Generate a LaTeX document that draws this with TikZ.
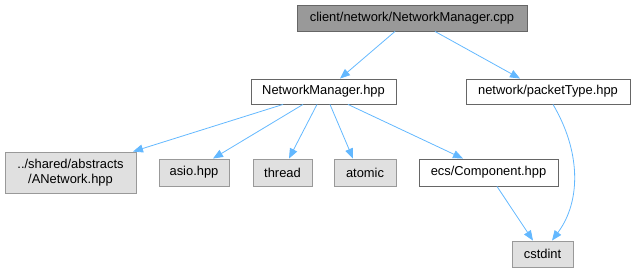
\documentclass[tikz,border=0pt]{standalone}
\usepackage{fontspec}
\setmainfont{Liberation Sans}
\usetikzlibrary{arrows.meta}
\definecolor{edgeblue}{HTML}{63B8FF}
\definecolor{rootfill}{HTML}{999999}
\definecolor{extfill}{HTML}{E0E0E0}
\definecolor{darkline}{HTML}{666666}
\definecolor{lightline}{HTML}{999999}
\begin{document}
\begin{tikzpicture}[x=1pt,y=-1pt,
  every node/.style={font=\fontsize{12.9}{14.5}\selectfont, inner sep=0pt, align=center, line width=0.9pt},
  rootbox/.style={draw=darkline, fill=rootfill},
  filebox/.style={draw=darkline, fill=white},
  extbox/.style={draw=lightline, fill=extfill},
  dep/.style={draw=edgeblue, line width=0.8pt, -{Triangle[length=10pt,width=8pt]}}]
\useasboundingbox (0,0) rectangle (635,272);

% files
\node[rootbox, minimum width=230pt, minimum height=26pt] (root) at (412,18) {client/network/NetworkManager.cpp};
\node[filebox, minimum width=145pt, minimum height=25pt] (nm) at (323.5,91.5) {NetworkManager.hpp};
\node[filebox, minimum width=164pt, minimum height=25pt] (pt) at (548,91.5) {network/packetType.hpp};
\node[extbox, minimum width=131pt, minimum height=41pt] (anet) at (70.5,172.5) {../shared/abstracts\\/ANetwork.hpp};
\node[extbox, minimum width=70pt, minimum height=27pt] (asio) at (194,172.5) {asio.hpp};
\node[extbox, minimum width=59pt, minimum height=27pt] (thread) at (282.5,172.5) {thread};
\node[extbox, minimum width=62pt, minimum height=27pt] (atomic) at (365,172.5) {atomic};
\node[filebox, minimum width=139pt, minimum height=27pt] (comp) at (488.5,172.5) {ecs/Component.hpp};
\node[extbox, minimum width=61pt, minimum height=26pt] (cstd) at (542.5,254) {cstdint};

% include edges
\draw[dep] ([xshift=-17pt]root.south) -- ([xshift=16.5pt]nm.north);
\draw[dep] ([xshift=23pt]root.south) -- ([xshift=-28pt]pt.north);
\draw[dep] ([xshift=-40.5pt]nm.south) -- ([xshift=62.5pt]anet.north);
\draw[dep] ([xshift=-20.5pt]nm.south) -- ([xshift=19pt]asio.north);
\draw[dep] ([xshift=-6.5pt]nm.south) -- ([xshift=6.5pt]thread.north);
\draw[dep] ([xshift=6.5pt]nm.south) -- ([xshift=-12pt]atomic.north);
\draw[dep] ([xshift=24.5pt]nm.south) -- ([xshift=-25.5pt]comp.north);
\draw[dep] ([xshift=8.5pt]comp.south) -- ([xshift=-9.5pt]cstd.north);
\draw[dep] ([xshift=5pt]pt.south) .. controls (580,150) and (582,200) .. ([xshift=9.5pt]cstd.north);
\end{tikzpicture}
\end{document}
